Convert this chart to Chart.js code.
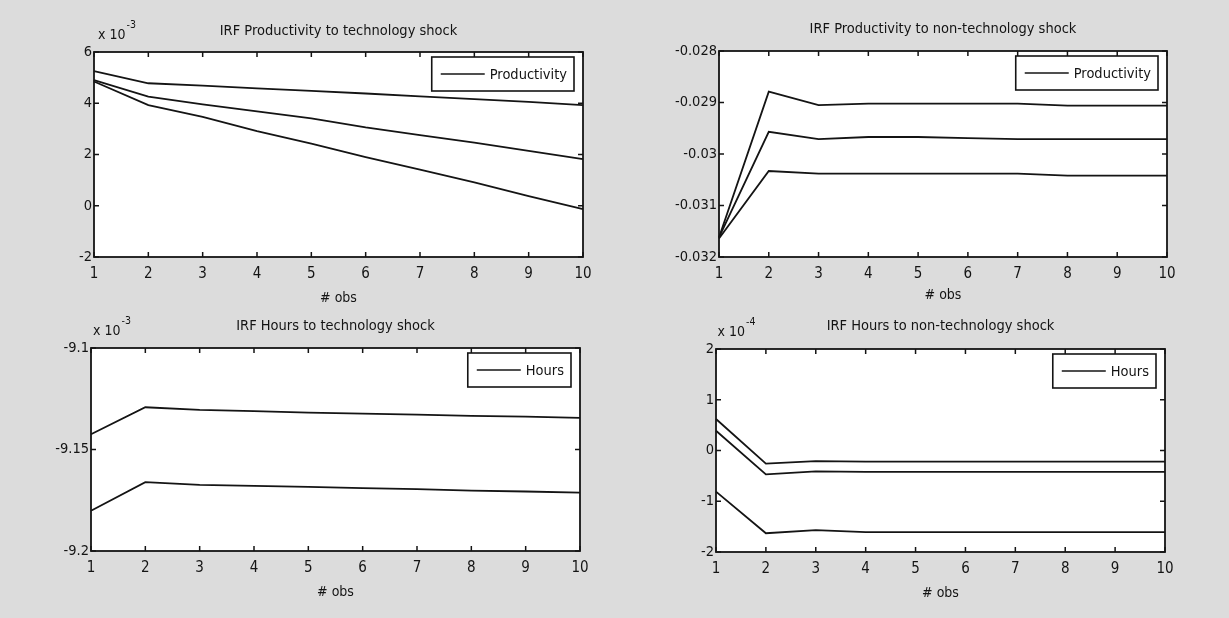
<!DOCTYPE html>
<html>
<head>
<meta charset="utf-8">
<script src="https://cdn.jsdelivr.net/npm/chart.js@4.4.1/dist/chart.umd.min.js"></script>
<style>
  html, body { margin: 0; padding: 0; }
  body { width: 1229px; height: 618px; background: #dcdcdc; position: relative; overflow: hidden; }
  canvas { position: absolute; }
</style>
</head>
<body>
<canvas id="c1" width="614" height="309" style="left:0px;top:0px;width:614px;height:309px"></canvas>
<canvas id="c2" width="615" height="309" style="left:614px;top:0px;width:615px;height:309px"></canvas>
<canvas id="c3" width="614" height="309" style="left:0px;top:309px;width:614px;height:309px"></canvas>
<canvas id="c4" width="615" height="309" style="left:614px;top:309px;width:615px;height:309px"></canvas>
<script>
// ---------------- DATA ----------------
const obs = [1, 2, 3, 4, 5, 6, 7, 8, 9, 10];

// IRF Productivity to technology shock (values x 10^-3)
const prodTechUpper = [5.25, 4.78, 4.69, 4.58, 4.48, 4.38, 4.27, 4.16, 4.05, 3.93];
const prodTechIrf   = [4.90, 4.26, 3.96, 3.68, 3.41, 3.06, 2.76, 2.46, 2.14, 1.82];
const prodTechLower = [4.85, 3.93, 3.47, 2.91, 2.42, 1.90, 1.41, 0.91, 0.38, -0.13];
const prodTechTicks = [-2, 0, 2, 4, 6];

// IRF Productivity to non-technology shock
const prodNonUpper = [-0.03162, -0.02879, -0.02905, -0.02902, -0.02902, -0.02902, -0.02902, -0.02906, -0.02906, -0.02906];
const prodNonIrf   = [-0.03162, -0.02957, -0.02971, -0.02967, -0.02967, -0.02969, -0.02971, -0.02971, -0.02971, -0.02971];
const prodNonLower = [-0.03164, -0.03033, -0.03038, -0.03038, -0.03038, -0.03038, -0.03038, -0.03042, -0.03042, -0.03042];
const prodNonTicks = [-0.032, -0.031, -0.03, -0.029, -0.028];

// IRF Hours to technology shock (values x 10^-3)
const hoursTechUpper = [-9.1425, -9.1292, -9.1305, -9.1311, -9.1318, -9.1323, -9.1328, -9.1334, -9.1338, -9.1344];
const hoursTechLower = [-9.1802, -9.1661, -9.1674, -9.1679, -9.1684, -9.1690, -9.1695, -9.1703, -9.1707, -9.1712];
const hoursTechTicks = [-9.2, -9.15, -9.1];

// IRF Hours to non-technology shock (values x 10^-4)
const hoursNonUpper = [0.62, -0.26, -0.21, -0.22, -0.22, -0.22, -0.22, -0.22, -0.22, -0.22];
const hoursNonIrf   = [0.39, -0.47, -0.41, -0.42, -0.42, -0.42, -0.42, -0.42, -0.42, -0.42];
const hoursNonLower = [-0.81, -1.63, -1.57, -1.61, -1.61, -1.61, -1.61, -1.61, -1.61, -1.61];
const hoursNonTicks = [-2, -1, 0, 1, 2];

// ---------------- STYLE ----------------
const FONT = '"Liberation Sans Narrow", "Arial Narrow", "DejaVu Sans Condensed", "Liberation Sans", sans-serif';
const INK = '#141414';
Chart.defaults.font.family = FONT;
Chart.defaults.color = INK;

const matlabPlugin = {
  id: 'matlab',
  beforeDraw(chart) {
    const a = chart.chartArea, ctx = chart.ctx;
    ctx.save();
    ctx.fillStyle = '#ffffff';
    ctx.fillRect(a.left, a.top, a.right - a.left, a.bottom - a.top);
    ctx.restore();
  },
  afterDatasetsDraw(chart, args, opts) {
    const a = chart.chartArea, ctx = chart.ctx;
    ctx.save();
    ctx.strokeStyle = INK;
    ctx.lineWidth = 1.5;
    // inward ticks
    const TL = 5;
    const xs = chart.scales.x, ys = chart.scales.y;
    ctx.beginPath();
    xs.ticks.forEach((t, i) => {
      const px = xs.getPixelForTick(i);
      ctx.moveTo(px, a.bottom); ctx.lineTo(px, a.bottom - TL);
      ctx.moveTo(px, a.top); ctx.lineTo(px, a.top + TL);
    });
    ys.ticks.forEach((t) => {
      const py = ys.getPixelForValue(t.value);
      ctx.moveTo(a.left, py); ctx.lineTo(a.left + TL, py);
      ctx.moveTo(a.right, py); ctx.lineTo(a.right - TL, py);
    });
    ctx.stroke();
    // frame
    ctx.lineWidth = 1.8;
    ctx.strokeRect(a.left, a.top, a.right - a.left, a.bottom - a.top);

    // legend box inside chart area
    const ds = chart.data.datasets[opts.legendIndex];
    ctx.font = '14.5px ' + FONT;
    const tw = ctx.measureText(ds.label).width;
    const boxW = 9 + 44 + 5 + tw + 7;
    const boxH = 34;
    const bx = a.right - 9 - boxW;
    const by = a.top + 5;
    ctx.fillStyle = '#ffffff';
    ctx.fillRect(bx, by, boxW, boxH);
    ctx.lineWidth = 1.6;
    ctx.strokeRect(bx, by, boxW, boxH);
    ctx.beginPath();
    ctx.lineWidth = 1.5;
    ctx.moveTo(bx + 9, by + boxH / 2);
    ctx.lineTo(bx + 53, by + boxH / 2);
    ctx.stroke();
    ctx.fillStyle = INK;
    ctx.textBaseline = 'middle';
    ctx.textAlign = 'left';
    ctx.fillText(ds.label, bx + 58, by + boxH / 2 + 1);

    // exponent label
    if (opts.exponent) {
      ctx.font = '14px ' + FONT;
      const ex = a.left + opts.expDx, ey = a.top - 17;
      ctx.fillText('x 10', ex, ey);
      const w = ctx.measureText('x 10').width;
      ctx.font = '10.5px ' + FONT;
      ctx.fillText(opts.exponent, ex + w + 1, ey - 10);
    }
    ctx.restore();
  }
};
Chart.register(matlabPlugin);

function fmt(v) { return String(Number(v.toFixed(5))); }

function makeChart(id, cfg) {
  const lineDs = (label, data) => ({
    label, data, borderColor: INK, borderWidth: 1.8, pointRadius: 0,
    tension: 0, fill: false
  });
  const datasets = cfg.series.map(s => lineDs(s.label, s.data));
  return new Chart(document.getElementById(id), {
    type: 'line',
    data: { labels: obs, datasets },
    options: {
      responsive: false,
      animation: false,
      devicePixelRatio: 1,
      layout: { padding: { left: cfg.padLeft, right: cfg.padRight, top: 0, bottom: 0 } },
      plugins: {
        legend: { display: false },
        tooltip: { enabled: false },
        title: {
          display: true, text: cfg.title, fullSize: false, color: INK,
          font: { size: 14.5, weight: 'normal', lineHeight: 1.2 },
          padding: { top: cfg.titleTop, bottom: cfg.titleBottom }
        },
        matlab: { legendIndex: cfg.legendIndex, exponent: cfg.exponent, expDx: cfg.expDx }
      },
      scales: {
        x: {
          type: 'category',
          offset: false,
          grid: { display: false, drawTicks: false },
          border: { display: false },
          ticks: { autoSkip: false, maxRotation: 0, padding: 8, color: INK, font: { size: 15 } },
          title: { display: true, text: '# obs', color: INK, font: { size: 14, lineHeight: 1.2 }, padding: { top: 0, bottom: cfg.xTitleBottom } },
          afterFit(s) { s.height = cfg.xHeight; }
        },
        y: {
          type: 'linear',
          min: cfg.min, max: cfg.max,
          grid: { display: false, drawTicks: false },
          border: { display: false },
          afterBuildTicks(s) { s.ticks = cfg.ticks.map(v => ({ value: v })); },
          ticks: { padding: 2, color: INK, font: { size: 14.5 }, callback: (v) => fmt(v) },
          afterFit(s) { s.width = 60; }
        }
      }
    }
  });
}

// Top-left: chart area L94 R583 T52 B257 (canvas 614x309 at 0,0)
makeChart('c1', {
  title: 'IRF Productivity to technology shock',
  series: [
    { label: 'Productivity', data: prodTechIrf },
    { label: 'upper', data: prodTechUpper },
    { label: 'lower', data: prodTechLower }
  ],
  legendIndex: 0, exponent: '-3', expDx: 4,
  min: -2, max: 6, ticks: prodTechTicks,
  padLeft: 34, padRight: 31, xHeight: 52, xTitleBottom: 2.5,
  titleTop: 22.3, titleBottom: 12.3
});

// Top-right: chart area L719 R1167 T51 B257 -> canvas L105 R553
makeChart('c2', {
  title: 'IRF Productivity to non-technology shock',
  series: [
    { label: 'Productivity', data: prodNonIrf },
    { label: 'upper', data: prodNonUpper },
    { label: 'lower', data: prodNonLower }
  ],
  legendIndex: 0, exponent: null, expDx: 0,
  min: -0.032, max: -0.028, ticks: prodNonTicks,
  padLeft: 45, padRight: 62, xHeight: 52, xTitleBottom: 4.8,
  titleTop: 20.3, titleBottom: 13.3
});

// Bottom-left: chart area L91 R580 T348 B551 -> canvas T39 B242
makeChart('c3', {
  title: 'IRF Hours to technology shock',
  series: [
    { label: 'Hours', data: hoursTechUpper },
    { label: 'lower', data: hoursTechLower }
  ],
  legendIndex: 0, exponent: '-3', expDx: 2,
  min: -9.2, max: -9.1, ticks: hoursTechTicks,
  padLeft: 31, padRight: 34, xHeight: 67, xTitleBottom: 16.8,
  titleTop: 8.3, titleBottom: 13.3
});

// Bottom-right: chart area L716 R1165 T349 B552 -> canvas L102 R551 T40 B243
makeChart('c4', {
  title: 'IRF Hours to non-technology shock',
  series: [
    { label: 'Hours', data: hoursNonIrf },
    { label: 'upper', data: hoursNonUpper },
    { label: 'lower', data: hoursNonLower }
  ],
  legendIndex: 0, exponent: '-4', expDx: 1.5,
  min: -2, max: 2, ticks: hoursNonTicks,
  padLeft: 42, padRight: 64, xHeight: 66, xTitleBottom: 16.2,
  titleTop: 8.3, titleBottom: 14.3
});
</script>
</body>
</html>
